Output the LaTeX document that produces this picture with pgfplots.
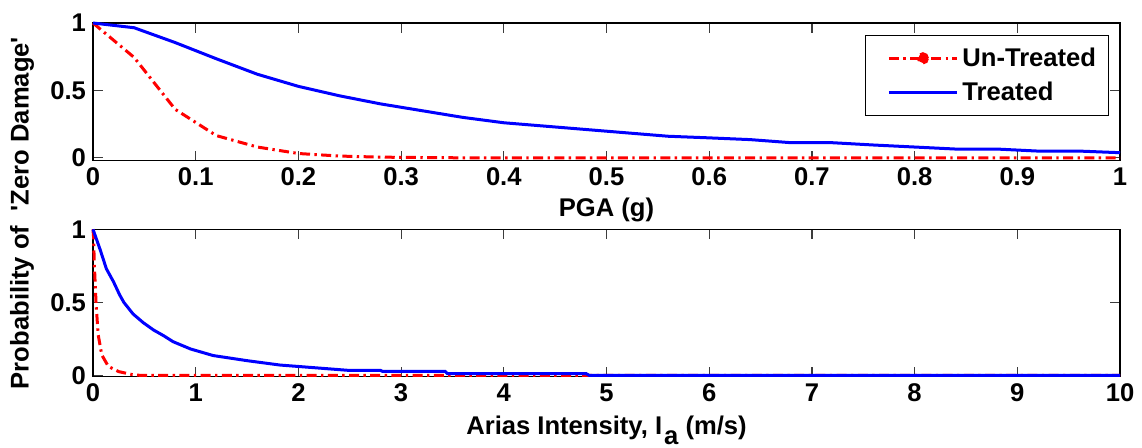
\documentclass[border=0pt]{standalone}
\usepackage{fontspec}
\setmainfont{Liberation Sans}
\usepackage{pgfplots}
\pgfplotsset{compat=1.18}
\definecolor{mred}{RGB}{255,0,0}
\definecolor{mblue}{RGB}{0,0,255}
\definecolor{tickgray}{RGB}{60,60,60}
\newcommand\lbl{\fontsize{12.8}{14}\selectfont\bfseries}
\tikzset{
  untr/.style={mred, line width=1.5pt, dash pattern=on 5pt off 2.2pt on 1.2pt off 2.2pt},
  trt/.style={mblue, line width=1.5pt},
}
\pgfplotsset{
  mfig/.style={scale only axis, width=513.5pt, anchor=north west,
    axis line style={black,line width=0.6pt},
    tick align=inside, major tick length=5pt, tick style={tickgray,line width=0.6pt},
    ticklabel style={font=\lbl}, label style={font=\lbl},
    /pgf/number format/assume math mode=true,
    ytick={0,0.5,1}, ymax=1, xmin=0, clip=false,
  },
}

\begin{document}
\begin{tikzpicture}
\useasboundingbox (0,0) rectangle (571pt,-223.5pt);

% PGA
\begin{axis}[mfig, at={(46.5pt,-11.5pt)}, height=68.75pt, xmax=1, ymin=-0.02,
  xtick={0,0.1,0.2,0.3,0.4,0.5,0.6,0.7,0.8,0.9,1},
  xlabel={PGA (g)}, xlabel style={yshift=1pt},
  legend style={at={(0.989,0.913)}, anchor=north east, draw=black, line width=0.6pt,
    font=\lbl, inner xsep=4pt, inner ysep=4pt, row sep=2.5pt},
  legend cell align=left]
\addplot[untr, legend image code/.code={\path (-7pt,0pt); \draw[untr] (0pt,0pt) -- (34pt,0pt);
    \fill[mred] (17pt,0pt) circle (2.3pt);}] coordinates {
  (0,1) (0.04,0.745) (0.08,0.36) (0.12,0.165) (0.16,0.08) (0.20,0.032) (0.24,0.013)
  (0.28,0.005) (0.32,0.002) (0.36,0) (0.40,0) (0.6,0) (0.8,0) (1.0,0)};
\addlegendentry{Un-Treated}
\addplot[trt, legend image code/.code={\path (-7pt,0pt); \draw[trt] (0pt,0pt) -- (34pt,0pt);}] coordinates {
  (0,1) (0.04,0.965) (0.08,0.855) (0.12,0.735) (0.16,0.62) (0.20,0.53) (0.24,0.46)
  (0.28,0.40) (0.32,0.35) (0.36,0.30) (0.40,0.26) (0.44,0.235) (0.48,0.21) (0.52,0.185)
  (0.56,0.16) (0.60,0.148) (0.64,0.135) (0.68,0.112) (0.72,0.112) (0.76,0.095)
  (0.80,0.08) (0.84,0.065) (0.88,0.065) (0.92,0.05) (0.96,0.05) (1.0,0.038)};
\addlegendentry{Treated}
\end{axis}

% Arias intensity
\begin{axis}[mfig, at={(46.5pt,-114.65pt)}, height=73.7pt, xmax=10, ymin=-0.01,
  xtick={0,1,2,3,4,5,6,7,8,9,10},
  xlabel={Arias Intensity, I\hspace{1pt}\raisebox{-5pt}{a} (m/s)}]
\addplot[untr] coordinates {
  (0,1) (0.005,0.95) (0.013,0.76) (0.03,0.49) (0.05,0.28) (0.085,0.14) (0.15,0.06)
  (0.25,0.025) (0.38,0.005) (0.45,0) (2,0) (4,0) (6,0) (8,0) (10,0)};
\addplot[trt] coordinates {
  (0,1) (0.07,0.86) (0.13,0.73) (0.2,0.64) (0.26,0.55) (0.30,0.50) (0.39,0.42)
  (0.49,0.36) (0.59,0.31) (0.69,0.27) (0.78,0.23) (0.95,0.18) (1.17,0.135) (1.5,0.1)
  (1.82,0.07) (2.15,0.052) (2.48,0.034) (2.8,0.033) (2.82,0.026) (3.43,0.026)
  (3.45,0.012) (4.8,0.012) (4.83,0) (10,0)};
\end{axis}

\node[rotate=90, font=\lbl] at (11pt,-106.5pt)
  {Probability of \ \textquotesingle Zero Damage\textquotesingle};
\end{tikzpicture}
\end{document}
